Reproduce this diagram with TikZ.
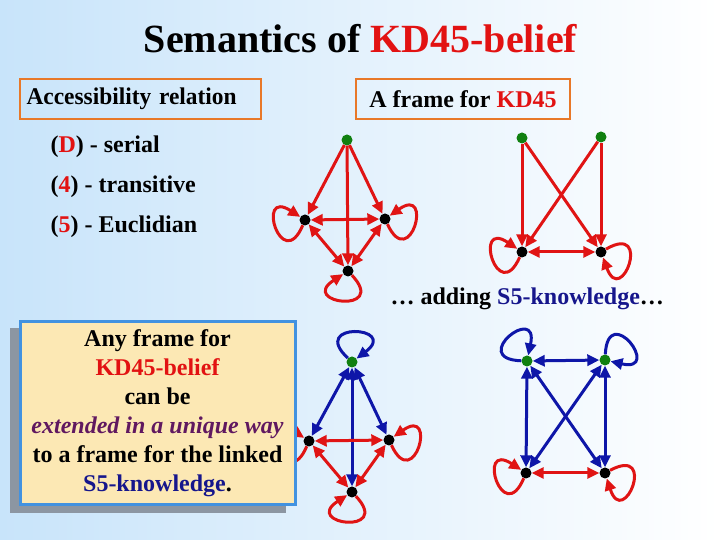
\documentclass[tikz,border=0pt]{standalone}
\usepackage{fontspec}
\setmainfont{Liberation Serif}
\usetikzlibrary{arrows.meta}
\definecolor{kdred}{RGB}{226,18,18}
\definecolor{edgered}{RGB}{224,20,20}
\definecolor{edgeblue}{RGB}{14,22,168}
\definecolor{navy}{RGB}{22,22,140}
\definecolor{dotgreen}{RGB}{16,128,16}
\definecolor{hdrorange}{RGB}{232,120,40}
\definecolor{purp}{RGB}{96,24,96}
\definecolor{bgblue}{RGB}{200,228,250}
\definecolor{notefill}{RGB}{252,232,180}
\definecolor{noteblue}{RGB}{66,146,224}
\definecolor{shadowgray}{RGB}{140,150,162}
\begin{document}
\begin{tikzpicture}[x=1pt,y=1pt,
  >={Triangle[length=12pt,width=11pt]},
  world/.style={circle,fill=black,minimum size=11pt,inner sep=0pt},
  gworld/.style={world,fill=dotgreen},
  redrel/.style={line width=3pt,draw=edgered},
  bluerel/.style={line width=3pt,draw=edgeblue},
  loopy/.style={min distance=54pt},
  hdr/.style={draw=hdrorange,line width=2.5pt,minimum height=40pt,inner ysep=0pt,
    font=\bfseries\fontsize{24}{28}\selectfont},
  body/.style={font=\bfseries\fontsize{24}{28}\selectfont},
  notebox/.style={draw=noteblue,line width=3pt,fill=notefill,minimum width=275pt,
    minimum height=183pt,align=center,font=\bfseries\fontsize{24}{29}\selectfont}
]
\useasboundingbox (0,0) rectangle (720,540);
\shade[left color=bgblue,right color=white] (0,0) rectangle (720,540);

% title
\node[anchor=base,font=\bfseries\fontsize{40}{48}\selectfont] (title) at (360.5,487)
  {Semantics of \textcolor{kdred}{KD45-belief}};

% headers
\node[hdr,text width=228pt,inner xsep=6.5pt,align=left] (acc) at (140.5,441)
  {\scalebox{0.975}[1]{Accessibility relation}};
\node[hdr,minimum width=214pt] (frame) at (463,441) {A frame for \textcolor{kdred}{KD45}};

% list
\node[body,anchor=base west] (dser) at (47,387) {(\textcolor{kdred}{D}) - serial};
\node[body,anchor=base west] (tran) at (47,347) {(\textcolor{kdred}{4}) - transitive};
\node[body,anchor=base west] (eucl) at (47,307) {(\textcolor{kdred}{5}) - Euclidian};

\node[body,anchor=base west] (adding) at (387,235) {… adding \textcolor{navy}{S5-knowledge}…};

% ---- graph 1 (KD45, top middle)
\node[gworld] (g1t) at (347,400) {};
\node[world] (g1l) at (305,320) {};
\node[world] (g1r) at (385,321) {};
\node[world] (g1b) at (348,269) {};
\draw[redrel,->] (g1t) -- (g1l);
\draw[redrel,->] (g1t) -- (g1r);
\draw[redrel,->] (g1t) -- (g1b);
\draw[redrel,<->] (g1l) -- (g1r);
\draw[redrel,<->] (g1l) -- (g1b);
\draw[redrel,<->] (g1r) -- (g1b);
\draw[redrel,->] (g1l) to[out=247,in=147,loopy] (g1l);
\draw[redrel,->] (g1r) to[out=-65,in=35,loopy] (g1r);
\draw[redrel,->] (g1b) to[out=-47,in=-147,loopy] (g1b);

% ---- graph 2 (KD45, top right)
\node[gworld] (g2a) at (522,402) {};
\node[gworld] (g2b) at (601,403) {};
\node[world] (g2c) at (522,288) {};
\node[world] (g2d) at (601,288) {};
\draw[redrel,->] (g2a) -- (g2c);
\draw[redrel,->] (g2a) -- (g2d);
\draw[redrel,->] (g2b) -- (g2c);
\draw[redrel,->] (g2b) -- (g2d);
\draw[redrel,<->] (g2c) -- (g2d);
\draw[redrel,->] (g2c) to[out=246,in=146,loopy] (g2c);
\draw[redrel,->] (g2d) to[out=30,in=-70,loopy] (g2d);

% ---- graph 4 (S5, bottom right)
\node[gworld] (g4a) at (527,179) {};
\node[gworld] (g4b) at (605,180) {};
\node[world] (g4c) at (526,67) {};
\node[world] (g4d) at (605,67) {};
\draw[bluerel,<->] (g4a) -- (g4b);
\draw[bluerel,<->] (g4a) -- (g4c);
\draw[bluerel,<->] (g4a) -- (g4d);
\draw[bluerel,<->] (g4b) -- (g4c);
\draw[bluerel,<->] (g4b) -- (g4d);
\draw[redrel,<->] (g4c) -- (g4d);
\draw[bluerel,->] (g4a) to[out=178,in=78,loopy] (g4a);
\draw[bluerel,->] (g4b) to[out=87,in=-13,loopy] (g4b);
\draw[redrel,->] (g4c) to[out=247,in=147,loopy] (g4c);
\draw[redrel,->] (g4d) to[out=28,in=-72,loopy] (g4d);

% ---- graph 3 (S5, bottom middle)
\node[gworld] (g3t) at (352,178) {};
\node[world] (g3l) at (309,99) {};
\node[world] (g3r) at (389,100) {};
\node[world] (g3b) at (352,48) {};
\draw[bluerel,<->] (g3t) -- (g3l);
\draw[bluerel,<->] (g3t) -- (g3r);
\draw[bluerel,<->] (g3t) -- (g3b);
\draw[redrel,<->] (g3l) -- (g3r);
\draw[redrel,<->] (g3l) -- (g3b);
\draw[redrel,<->] (g3r) -- (g3b);
\draw[bluerel,->] (g3t) to[out=137,in=37,loopy] (g3t);
\draw[redrel,->] (g3l) to[out=247,in=147,loopy] (g3l);
\draw[redrel,->] (g3r) to[out=-65,in=35,loopy] (g3r);
\draw[redrel,->] (g3b) to[out=-47,in=-147,loopy] (g3b);

% ---- note box with shadow
\fill[shadowgray] (10,27) rectangle (286,212);
\node[notebox] (note) at (157.5,126.5)
  {Any frame for\\ \textcolor{kdred}{KD45-belief}\\ can be\\
   \textcolor{purp}{\itshape extended in a unique way}\\
   to a frame for the linked\\ \textcolor{navy}{S5-knowledge}.};
\end{tikzpicture}
\end{document}
